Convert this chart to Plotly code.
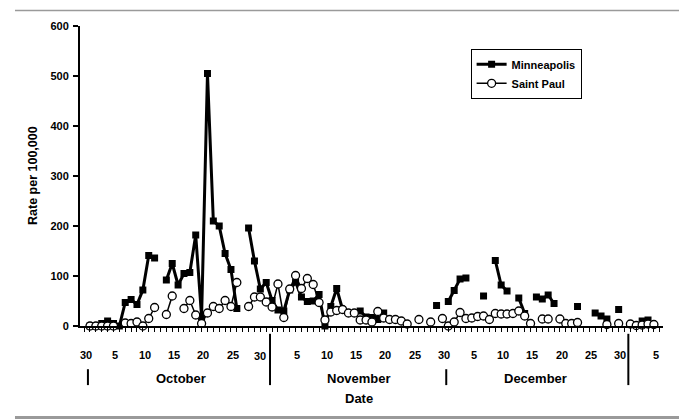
import plotly.graph_objects as go

# Days since Sep 30 (0 = Sep 30)
days = list(range(0, 98))

minneapolis = [
    None, 0, 0, 5, 10, 5, 0, 47, 53, 43,          # 0-9
    72, 141, 136, None, 92, 125, 82, 105, 107, 182,  # 10-19
    18, 505, 210, 200, 145, 113, 35, None, 196, 130,  # 20-29
    74, 87, 51, 32, 30, 72, 88, 58, 49, 50,          # 30-39
    63, 0, 39, 75, 33, None, None, 30, 18, 17,       # 40-49
    13, 26, None, None, None, None, None, None, None, None,  # 50-59
    41, None, 49, 71, 94, 96, None, None, 60, None,  # 60-69
    131, 82, 70, None, 56, 25, None, 58, 54, 62,     # 70-79
    45, None, None, None, 39, None, None, 26, 20, 14,  # 80-89
    None, 33, None, None, None, 10, 12, None,        # 90-97
]

saint_paul = [
    None, 0, 0, 0, 0, 0, None, 6, 5, 8,              # 0-9
    0, 15, 37, None, 23, 60, None, 35, 51, 22,       # 10-19
    5, 26, 39, 35, 51, 39, 87, None, 39, 58,         # 20-29
    58, 48, 38, 84, 17, 74, 101, 75, 95, 83,         # 30-39
    47, 12, 28, 31, 33, 26, 26, 12, 12, 8,           # 40-49
    29, 16, 13, 13, 10, 4, None, 13, None, 8,        # 50-59
    None, 15, 0, 8, 27, 15, 16, 19, 20, 13,          # 60-69
    25, 24, 24, 25, 30, 20, 5, None, 14, 14,         # 70-79
    None, 14, 5, 5, 7, None, None, None, None, 3,    # 80-89
    None, 5, None, 4, 1, 2, 4, 3,                    # 90-97
]

tick_days = [0, 5, 10, 15, 20, 25, 30, 36, 41, 46, 51, 56, 61, 66, 71, 76, 81, 86, 91, 97]
tick_text = ["30", "5", "10", "15", "20", "25", "30", "5", "10", "15", "20", "25", "30",
             "5", "10", "15", "20", "25", "30", "5"]

months = ["October", "November", "December"]
month_centers = [16.5, 46.8, 76.9]
month_ends = [0, 31, 61, 92]   # last day before each month boundary
long_separators = [31, 92]

FONT = "Liberation Sans, Arial, sans-serif"

fig = go.Figure()
fig.add_trace(go.Scatter(
    x=days, y=minneapolis, name="<b>Minneapolis</b>", mode="lines+markers",
    line=dict(color="black", width=3),
    marker=dict(symbol="square", size=7, color="black"),
    connectgaps=False, cliponaxis=False,
))
fig.add_trace(go.Scatter(
    x=days, y=saint_paul, name="<b>Saint Paul</b>", mode="lines+markers",
    line=dict(color="black", width=1.5),
    marker=dict(symbol="circle", size=8, color="white", line=dict(color="black", width=1.3)),
    connectgaps=False, cliponaxis=False,
))

annotations = []
for d, t in zip(tick_days, tick_text):
    if d == 30:
        xx, yy = d - 0.1, -0.101
    else:
        xx, yy = d + 0.3, -0.095
    annotations.append(dict(x=xx, y=yy, xref="x", yref="paper", text=f"<b>{t}</b>",
                            showarrow=False, xanchor="center", yanchor="middle",
                            font=dict(family=FONT, size=11, color="black")))
for m, c in zip(months, month_centers):
    annotations.append(dict(x=c, y=-0.175, xref="x", yref="paper", text=f"<b>{m}</b>",
                            showarrow=False, xanchor="center", yanchor="middle",
                            font=dict(family=FONT, size=13, color="black")))
annotations.append(dict(x=46.8, y=-0.243, xref="x", yref="paper", text="<b>Date</b>",
                        showarrow=False, xanchor="center", yanchor="middle",
                        font=dict(family=FONT, size=13, color="black")))
annotations.append(dict(x=-0.0806, y=0.5, xref="paper", yref="paper",
                        text="<b>Rate per 100,000</b>", textangle=-90,
                        showarrow=False, xanchor="center", yanchor="middle",
                        font=dict(family=FONT, size=12.5, color="black")))

shapes = []
for e in month_ends:
    x = e + 0.65
    y0 = -0.026 if e in long_separators else -0.144
    shapes.append(dict(type="line", xref="x", yref="paper", x0=x, x1=x, y0=y0, y1=-0.197,
                       line=dict(color="black", width=2)))
# gray rules at top and bottom of the figure
shapes.append(dict(type="line", xref="paper", yref="paper", x0=-0.1115, x1=1.05,
                   y0=1.052, y1=1.052, line=dict(color="#9a9a9a", width=1.5)))
shapes.append(dict(type="line", xref="paper", yref="paper", x0=-0.1115, x1=1.05,
                   y0=-0.305, y1=-0.305, line=dict(color="#9a9a9a", width=3)))

# page body has an 8px margin, so the figure is sized/offset to compensate
fig.update_layout(
    width=679, height=412,
    margin=dict(l=72, r=24, t=13, b=94),
    paper_bgcolor="white", plot_bgcolor="white",
    font=dict(family=FONT, size=11, color="black"),
    showlegend=True,
    legend=dict(x=0.67, y=0.924, xanchor="left", yanchor="top",
                bordercolor="black", borderwidth=1, bgcolor="white",
                font=dict(family=FONT, size=11, color="black"),
                tracegroupgap=2),
    xaxis=dict(range=[-0.7, 98.55], tickmode="linear", tick0=0, dtick=1,
               ticks="outside", ticklen=4, tickwidth=1, tickcolor="black",
               showticklabels=False, showline=True, linecolor="black", linewidth=2,
               showgrid=False, zeroline=False),
    yaxis=dict(range=[0, 600], tickmode="linear", tick0=0, dtick=100,
               ticks="outside", ticklen=5, tickwidth=2, tickcolor="black",
               tickfont=dict(family=FONT, size=11, color="black"),
               ticklabelstandoff=2,
               showline=True, linecolor="black", linewidth=2,
               showgrid=False, zeroline=False),
    annotations=annotations, shapes=shapes,
)
fig.update_yaxes(tickprefix="<b>", ticksuffix="</b>")

fig.write_html("out.html")
